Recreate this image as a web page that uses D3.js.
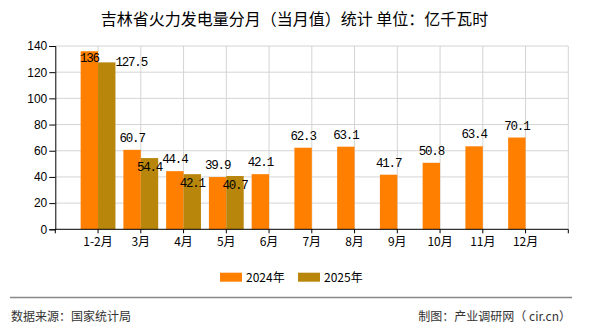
<!DOCTYPE html>
<html><head><meta charset="utf-8">
<script src="https://cdn.jsdelivr.net/npm/d3@7/dist/d3.min.js"></script>
<style>body{margin:0;background:#fff}svg{display:block}</style>
</head><body><div id="chart"></div>
<script>
const categories = ["1-2月","3月","4月","5月","6月","7月","8月","9月","10月","11月","12月"];
const series2024 = [136,60.7,44.4,39.9,42.1,62.3,63.1,41.7,50.8,63.4,70.1];
const series2025 = [127.5,54.4,42.1,40.7];
const yTicks = [0,20,40,60,80,100,120,140];
const seriesNames = ["2024年","2025年"];
const colors = ["#FF8000","#B8860B"];

const W=590,H=330;
const pLeft=55.3,pRight=568.3,pTop=46,pBottom=229.3;
const svg=d3.select("#chart").append("svg").attr("width",W).attr("height",H);
const cjk="'Noto Sans CJK SC','Noto Sans',sans-serif";

const x=d3.scaleLinear().domain([-1,categories.length]).range([pLeft,pRight]);
const y=d3.scaleLinear().domain([0,140]).range([pBottom,pTop]);
const bw=17.4;

// grid
const g=svg.append("g");
g.selectAll(".hg").data(yTicks.slice(1)).enter().append("line")
 .attr("x1",pLeft).attr("x2",pRight).attr("y1",d=>y(d)).attr("y2",d=>y(d))
 .attr("stroke","#d4d4d4").attr("stroke-width",1);
const vlines=d3.range(categories.length+1);
g.selectAll(".vg").data(vlines).enter().append("line")
 .attr("x1",d=>x(d)).attr("x2",d=>x(d)).attr("y1",pTop).attr("y2",pBottom)
 .attr("stroke","#d4d4d4").attr("stroke-width",1);

// bars
svg.append("g").selectAll("rect").data(series2024).enter().append("rect")
 .attr("x",(d,i)=>x(i)-bw).attr("width",bw).attr("y",d=>y(d)).attr("height",d=>pBottom-y(d))
 .attr("fill",colors[0]);
svg.append("g").selectAll("rect").data(series2025).enter().append("rect")
 .attr("x",(d,i)=>x(i)).attr("width",bw).attr("y",d=>y(d)).attr("height",d=>pBottom-y(d))
 .attr("fill",colors[1]);

// axes
const yAxis=d3.axisLeft(y).tickValues(yTicks).tickSize(6).tickPadding(2);
const ya=svg.append("g").attr("transform",`translate(${pLeft},0)`).call(yAxis);
ya.select(".domain").attr("stroke","#000");
ya.selectAll(".tick line").attr("stroke","#000");
ya.selectAll("text").attr("font-family","'Liberation Sans',Arial,sans-serif").attr("font-size","12px").attr("fill","#000");

const xa=svg.append("g").attr("transform",`translate(0,${pBottom})`);
xa.append("line").attr("x1",pLeft).attr("x2",pRight).attr("stroke","#000");
const xt=[-1].concat(d3.range(categories.length)).concat([categories.length]);
xa.selectAll(".xt").data(xt).enter().append("line")
 .attr("x1",d=>x(d)).attr("x2",d=>x(d)).attr("y1",0).attr("y2",4).attr("stroke","#000");
xa.selectAll(".xl").data(categories).enter().append("text")
 .attr("x",(d,i)=>x(i)).attr("y",17).attr("text-anchor","middle")
 .attr("font-family",cjk).attr("font-size","12px").attr("fill","#000").text(d=>d);

// value labels
const lf="'Liberation Mono','DejaVu Sans Mono',monospace";
function lab(sel){return sel.attr("font-family",lf).attr("font-size","12.5px").attr("letter-spacing","-1.2px").attr("fill","#000");}
lab(svg.append("g").selectAll("text").data(series2024).enter().append("text"))
 .attr("x",(d,i)=>x(i)-bw/2).attr("text-anchor","middle")
 .attr("y",d=>{const t=y(d); return (t-pTop<20)? t+11 : t-8;})
 .text(d=>d);
lab(svg.append("g").selectAll("text").data(series2025).enter().append("text"))
 .attr("x",(d,i)=>{const t=y(d); return (t-pTop<20)? x(i)+bw : x(i)+bw/2;})
 .attr("text-anchor",d=>(y(d)-pTop<20)?"start":"middle")
 .attr("y",d=>{const t=y(d); return (t-pTop<20)? t+4 : t+13;})
 .text(d=>d);

// title
svg.append("text").attr("x",294.5).attr("y",24.5).attr("text-anchor","middle")
 .attr("font-family",cjk).attr("font-size","16px").attr("font-weight","400").attr("fill","#000")
 .text("吉林省火力发电量分月（当月值）统计 单位：亿千瓦时");

// legend
const lg=svg.append("g");
const lx=[220,298];
seriesNames.forEach((n,i)=>{
  lg.append("rect").attr("x",lx[i]).attr("y",272.7).attr("width",22).attr("height",9).attr("fill",colors[i]);
  lg.append("text").attr("x",lx[i]+26).attr("y",281.5).attr("font-family",cjk).attr("font-size","12px").attr("fill","#000").text(n);
});

// footer
svg.append("line").attr("x1",10).attr("x2",572).attr("y1",297.5).attr("y2",297.5).attr("stroke","#888").attr("stroke-width",1.3);
svg.append("text").attr("x",11).attr("y",321).attr("font-family",cjk).attr("font-size","12px").attr("fill","#333").text("数据来源：国家统计局");
svg.append("text").attr("x",571).attr("y",321).attr("text-anchor","end").attr("font-family",cjk).attr("font-size","12px").attr("fill","#333").text("制图：产业调研网（ cir.cn）");
</script></body></html>
